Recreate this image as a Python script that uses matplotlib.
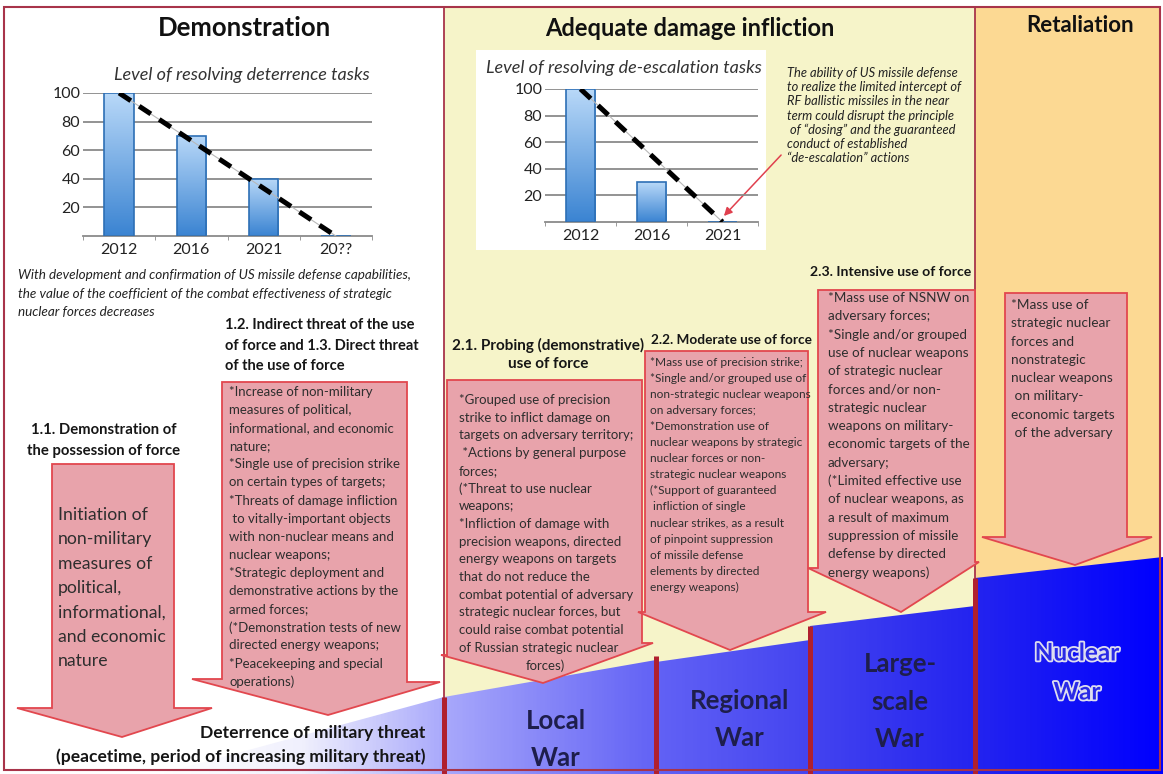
import numpy as np
import matplotlib.pyplot as plt
from matplotlib.patches import Polygon, Rectangle
from matplotlib.colors import LinearSegmentedColormap
import matplotlib.patheffects as pe

plt.rcParams['font.family'] = ['Lato', 'DejaVu Sans']

W, H, DPI = 1163, 774, 100

# ---- data -------------------------------------------------------------
deter_years = ['2012', '2016', '2021', '20??']
deter_level = [100, 70, 40, 0]
deesc_years = ['2012', '2016', '2021']
deesc_level = [100, 30, 0]
level_ticks = [20, 40, 60, 80, 100]

deter_title = "Level of resolving deterrence tasks"
deesc_title = "Level of resolving de-escalation tasks"

deter_note = ["With development and confirmation of US missile defense capabilities,",
              "the value of the coefficient of the combat effectiveness of strategic",
              "nuclear forces decreases"]
deesc_note = ["The ability of US missile defense",
              "to realize the limited intercept of",
              "RF ballistic missiles in the near",
              "term could disrupt the principle",
              " of \u201cdosing\u201d and the guaranteed",
              "conduct of established",
              "\u201cde-escalation\u201d actions"]

head_11 = ["1.1. Demonstration of", "the possession of force"]
head_12 = ["1.2. Indirect threat of the use", "of force and 1.3. Direct threat", "of the use of force"]
head_21 = ["2.1. Probing (demonstrative)", "use of force"]
head_22 = "2.2. Moderate use of force"
head_23 = "2.3. Intensive use of force"

text_11 = ["Initiation of", "non-military", "measures of", "political,",
           "informational,", "and economic", "nature"]
text_12 = ["*Increase of non-military", "measures of political,",
           "informational, and economic", "nature;",
           "*Single use of precision strike", "on certain types of targets;",
           "*Threats of damage infliction", " to vitally-important objects",
           "with non-nuclear means and", "nuclear weapons;",
           "*Strategic deployment and", "demonstrative actions by the",
           "armed forces;", "(*Demonstration tests of new",
           "directed energy weapons;", "*Peacekeeping and special", "operations)"]
text_21 = ["*Grouped use of precision", "strike to inflict damage on",
           "targets on adversary territory;", " *Actions by general purpose",
           "forces;", "(*Threat to use nuclear", "weapons;",
           "*Infliction of damage with", "precision weapons, directed",
           "energy weapons on targets", "that do not reduce the",
           "combat potential of adversary", "strategic nuclear forces, but",
           "could raise combat potential", "of Russian strategic nuclear",
           "forces)"]
text_22 = ["*Mass use of precision strike;", "*Single and/or grouped use of",
           "non-strategic nuclear weapons", "on adversary forces;",
           "*Demonstration use of", "nuclear weapons by strategic",
           "nuclear forces or non-", "strategic nuclear weapons",
           "(*Support of guaranteed", " infliction of single",
           "nuclear strikes, as a result", "of pinpoint suppression",
           "of missile defense", "elements by directed", "energy weapons)"]
text_23 = ["*Mass use of NSNW on", "adversary forces;", "*Single and/or grouped",
           "use of nuclear weapons", "of strategic nuclear", "forces and/or non-",
           "strategic nuclear", "weapons on military-", "economic targets of the",
           "adversary;", "(*Limited effective use", "of nuclear weapons, as",
           "a result of maximum", "suppression of missile", "defense by directed",
           "energy weapons)"]
text_ret = ["*Mass use of", "strategic nuclear", "forces and", "nonstrategic",
            "nuclear weapons", " on military-", "economic targets", " of the adversary"]

war_labels = [(["Local", "War"], 556, 721), (["Regional", "War"], 740, 701),
              (["Large-", "scale", "War"], 900, 664)]

# ---- colours ----------------------------------------------------------
BORDER = '#a8344a'
SEP = '#b0202e'
ARROW_FC = '#e8a3ab'
ARROW_EC = '#e2474e'
TXT = '#2e2e2e'
HEAD = '#161616'

fig = plt.figure(figsize=(W / DPI, H / DPI), dpi=DPI)
ax = fig.add_axes([0, 0, 1, 1])
ax.axis('off')

# panels
ax.add_patch(Rectangle((4, 7), 440, 763, fc='white', ec='none', zorder=0))
ax.add_patch(Rectangle((444, 7), 531, 763, fc='#f6f4c9', ec='none', zorder=0))
ax.add_patch(Rectangle((975, 7), 185, 763, fc='#fcd993', ec='none', zorder=0))

# war ramp with horizontal gradient
ramp = Polygon([(160, 774), (444, 697), (656, 660), (656, 662), (810, 640), (810, 626),
                (975, 606), (975, 578), (1163, 557), (1163, 774)],
               closed=True, fc='none', ec='none')
ax.add_patch(ramp)
ramp_cmap = LinearSegmentedColormap.from_list('ramp', [
    (0.0, '#ffffff'), (0.14, '#f0f0fd'), (0.283, '#a8a8fb'), (0.494, '#6262f5'),
    (0.648, '#4444f0'), (0.812, '#2424ef'), (1.0, '#0000ff')])
im = ax.imshow(np.linspace(0, 1, 600).reshape(1, -1), cmap=ramp_cmap, aspect='auto',
               extent=[160, 1163, 774, 550], zorder=1, interpolation='bilinear')
im.set_clip_path(ramp)

# thin panel separators and border
ax.plot([444, 444], [7, 774], color=BORDER, lw=1.3, zorder=2)
ax.plot([975, 975], [7, 774], color=BORDER, lw=1.3, zorder=2)
ax.add_patch(Rectangle((4, 7), 1156, 763, fill=False, ec=BORDER, lw=1.5, zorder=6))

# white box behind the second chart
ax.add_patch(Rectangle((476, 50), 290, 200, fc='white', ec='none', zorder=1))


def down_arrow(x0, x1, top, base_l, base_r, hx0, hx1, tip):
    pts = [(x0, top), (x1, top), (x1, base_r), (hx1, base_r), tip,
           (hx0, base_l), (x0, base_l)]
    ax.add_patch(Polygon(pts, closed=True, fc=ARROW_FC, ec=ARROW_EC, lw=1.3, zorder=3))


down_arrow(52, 174, 464, 708, 708, 17, 212, (122, 737))
down_arrow(222, 407, 382, 679, 682, 192, 440, (328, 715))
down_arrow(447, 642, 380, 655, 643, 441, 653, (543, 683))
down_arrow(645, 808, 351, 612, 612, 638, 826, (730, 650))
down_arrow(818, 975, 290, 568, 562, 808, 979, (901, 612))
down_arrow(1005, 1127, 293, 537, 537, 982, 1152, (1075, 565))

# thick separators on the ramp
for sx, sy in [(444, 697), (656, 656), (810, 626), (975, 578)]:
    ax.plot([sx, sx], [sy, 774], color=SEP, lw=3.6, zorder=5, solid_capstyle='butt')


def lines(x, y0, dy, items, **kw):
    for i, s in enumerate(items):
        ax.text(x, y0 + i * dy, s, va='center', zorder=7, **kw)


# titles
ax.text(245, 28, "Demonstration", ha='center', va='center', fontsize=18.5,
        fontweight='bold', color='#111111', zorder=7)
ax.text(690, 28, "Adequate damage infliction", ha='center', va='center', fontsize=17,
        fontweight='bold', color='#111111', zorder=7)
ax.text(1080, 25, "Retaliation", ha='center', va='center', fontsize=16,
        fontweight='bold', color='#111111', zorder=7)

ax.text(242, 75, deter_title, ha='center', va='center', fontsize=13,
        fontstyle='italic', color='#333333', zorder=7)
ax.text(624, 68, deesc_title, ha='center', va='center', fontsize=13,
        fontstyle='italic', color='#333333', zorder=7)

lines(18, 275, 18.5, deter_note, fontsize=9.7, fontstyle='italic', color='#222222')
lines(787, 73, 14.2, deesc_note, fontsize=9.3, fontstyle='italic', color='#222222')
ax.annotate('', xy=(722, 218), xytext=(783, 153), zorder=7,
            arrowprops=dict(arrowstyle='-|>', color='#e0404e', lw=1.1, mutation_scale=12))

# headings
lines(104, 430, 21, head_11, fontsize=10.7, fontweight='bold', ha='center', color=HEAD)
lines(225, 325, 20.5, head_12, fontsize=10.5, fontweight='bold', color=HEAD)
lines(548, 345, 18.5, head_21, fontsize=11, fontweight='bold', ha='center', color=HEAD)
ax.text(731, 340, head_22, ha='center', va='center', fontsize=9.8, fontweight='bold',
        color=HEAD, zorder=7)
ax.text(891, 272, head_23, ha='center', va='center', fontsize=10.1, fontweight='bold',
        color=HEAD, zorder=7)

# arrow texts
lines(58, 515, 24.3, text_11, fontsize=12.7, color=TXT)
lines(229, 392, 18.1, text_12, fontsize=9.5, color=TXT)
lines(459, 400, 17.7, text_21[:-1], fontsize=9.5, color=TXT)
ax.text(545, 400 + 15 * 17.7, text_21[-1], ha='center', va='center', fontsize=9.5,
        color=TXT, zorder=7)
lines(650, 362, 16.1, text_22, fontsize=8.6, color=TXT)
lines(828, 298, 18.3, text_23, fontsize=9.7, color=TXT)
lines(1011, 305, 18.3, text_ret, fontsize=9.8, color=TXT)

# deterrence caption
ax.text(425, 733, "Deterrence of military threat", ha='right', va='center',
        fontsize=12.6, fontweight='bold', color='#151515', zorder=7)
ax.text(425, 757, "(peacetime, period of increasing military threat)", ha='right',
        va='center', fontsize=12.6, fontweight='bold', color='#151515', zorder=7)

# war labels
for lab, x, y in war_labels:
    lines(x, y, 37.5, lab, ha='center', fontsize=18.5, fontweight='bold', color='#1e1e4c')
lines(1077, 653, 39, ["Nuclear", "War"], ha='center', fontsize=17.5, fontweight='bold',
      color='#2a2ae6',
      path_effects=[pe.Stroke(linewidth=2.6, foreground='#dedef0'), pe.Normal()])

ax.set_xlim(0, W)
ax.set_ylim(H, 0)

# ---- bar charts -------------------------------------------------------
bar_cmap = LinearSegmentedColormap.from_list('bar', ['#3b84d2', '#b8d8f8'])


def level_chart(rect, years, levels):
    a = fig.add_axes([rect[0] / W, 1 - (rect[1] + rect[3]) / H, rect[2] / W, rect[3] / H])
    a.set_facecolor('none')
    n = len(years)
    xs = np.arange(n)
    bars = a.bar(xs, levels, width=0.41, color='none', edgecolor='#2d6fb5', lw=1.2, zorder=3)
    for b in bars:
        if b.get_height() <= 0:
            continue
        g = a.imshow(np.linspace(0, 1, 100).reshape(-1, 1), cmap=bar_cmap, aspect='auto',
                     origin='lower', extent=[b.get_x(), b.get_x() + b.get_width(), 0, b.get_height()],
                     zorder=2)
        g.set_clip_path(b)
    a.plot([xs[0], xs[-1]], [levels[0], 0], color='#b8b8b8', lw=0.8, zorder=4)
    a.plot([xs[0], xs[-1]], [levels[0], 0], color='black', lw=3.6, ls=(0, (2.8, 2.0)),
           dash_capstyle='butt', zorder=5)
    a.set_xlim(-0.5, n - 0.5)
    a.set_ylim(0, 100)
    a.set_yticks(level_ticks)
    a.set_yticklabels([str(t) for t in level_ticks], fontsize=11.5, color='#222222')
    a.set_xticks(xs)
    a.set_xticklabels(years, fontsize=11.5, color='#222222')
    a.set_xticks(np.arange(-0.5, n, 1.0), minor=True)
    a.tick_params(axis='x', which='major', length=0, pad=5)
    a.tick_params(axis='x', which='minor', length=3, color='#8a8a8a', direction='out')
    a.tick_params(axis='y', length=0, pad=2)
    a.yaxis.grid(True, color='#8a8a8a', lw=1.3, zorder=1)
    a.set_axisbelow(True)
    for s in ['top', 'right', 'left']:
        a.spines[s].set_visible(False)
    a.spines['bottom'].set_color('#8a8a8a')
    a.spines['bottom'].set_linewidth(1.3)
    return a


level_chart((83, 93, 289, 143), deter_years, deter_level)
level_chart((545, 89, 213, 133), deesc_years, deesc_level)

fig.savefig('out.png', dpi=DPI)
